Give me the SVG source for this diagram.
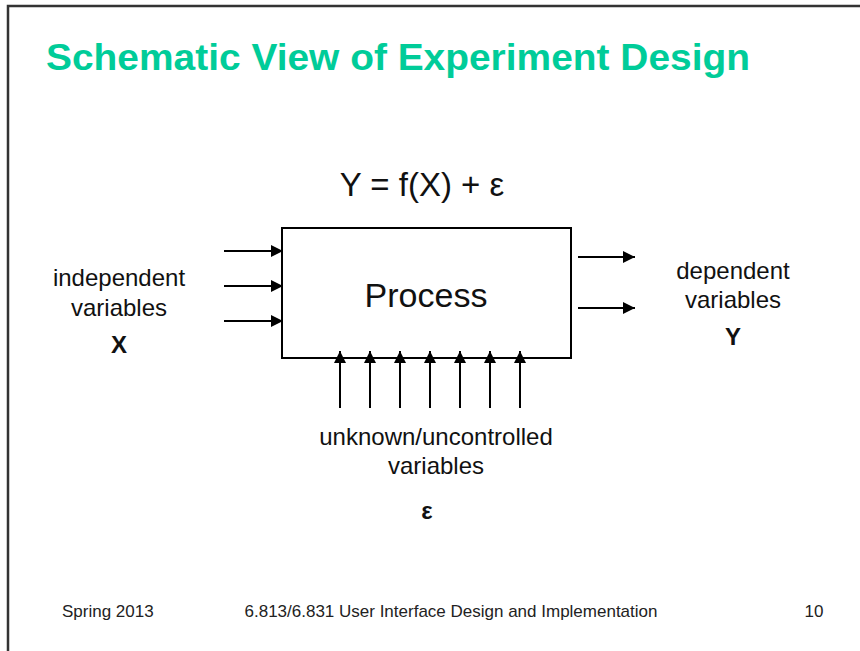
<svg xmlns="http://www.w3.org/2000/svg" width="860" height="651" viewBox="0 0 860 651">
<defs>
<marker id="ah" viewBox="0 0 12 12" refX="12" refY="6" markerWidth="12" markerHeight="12" markerUnits="userSpaceOnUse" orient="auto">
<path d="M0,0 L12,6 L0,12 Z" fill="#000"/>
</marker>
</defs>
<style>
.t{font-family:"Liberation Sans",Arial,sans-serif;fill:#111}
.c{text-anchor:middle}
.b{font-weight:bold}
.ft{font-family:"Liberation Sans",Arial,sans-serif;fill:#222;font-size:17px}
.ar{stroke:#000;stroke-width:2;fill:none;marker-end:url(#ah)}
</style>
<rect x="0" y="0" width="860" height="651" fill="#fff"/>
<path d="M8,651 V6 H860" fill="none" stroke="#333" stroke-width="2.5"/>
<text x="46" y="70" class="b" font-family="Liberation Sans,Arial,sans-serif" font-size="36" fill="#00cc99" textLength="704" lengthAdjust="spacingAndGlyphs">Schematic View of Experiment Design</text>
<text x="422" y="196" class="t c" font-size="33">Y = f(X) + ε</text>
<g id="process">
<rect x="282" y="228" width="289" height="130" fill="#fff" stroke="#000" stroke-width="2"/>
<text x="426" y="307" class="t c" font-size="34">Process</text>
</g>
<g id="independent">
<text x="119" y="286" class="t c" font-size="24">independent</text>
<text x="119" y="316" class="t c" font-size="24">variables</text>
<text x="119" y="353" class="t c b" font-size="24">X</text>
</g>
<g id="dependent">
<text x="733" y="279" class="t c" font-size="24">dependent</text>
<text x="733" y="308" class="t c" font-size="24">variables</text>
<text x="733" y="345" class="t c b" font-size="24">Y</text>
</g>
<g id="unknown">
<text x="436" y="445" class="t c" font-size="24">unknown/uncontrolled</text>
<text x="436" y="474" class="t c" font-size="24">variables</text>
<text x="427" y="519" class="t c b" font-size="24">ε</text>
</g>
<g id="connectors">
<line class="ar" x1="224" y1="251" x2="283" y2="251"/>
<line class="ar" x1="224" y1="286" x2="283" y2="286"/>
<line class="ar" x1="224" y1="321" x2="283" y2="321"/>
<line class="ar" x1="578" y1="257" x2="635" y2="257"/>
<line class="ar" x1="578" y1="308" x2="635" y2="308"/>
<line class="ar" x1="340" y1="408" x2="340" y2="351"/>
<line class="ar" x1="370" y1="408" x2="370" y2="351"/>
<line class="ar" x1="400" y1="408" x2="400" y2="351"/>
<line class="ar" x1="430" y1="408" x2="430" y2="351"/>
<line class="ar" x1="460" y1="408" x2="460" y2="351"/>
<line class="ar" x1="490" y1="408" x2="490" y2="351"/>
<line class="ar" x1="520" y1="408" x2="520" y2="351"/>
</g>
<g id="footer">
<text x="62" y="617" class="ft">Spring 2013</text>
<text x="451" y="617" class="ft c">6.813/6.831 User Interface Design and Implementation</text>
<text x="814" y="617" class="ft c">10</text>
</g>
</svg>
